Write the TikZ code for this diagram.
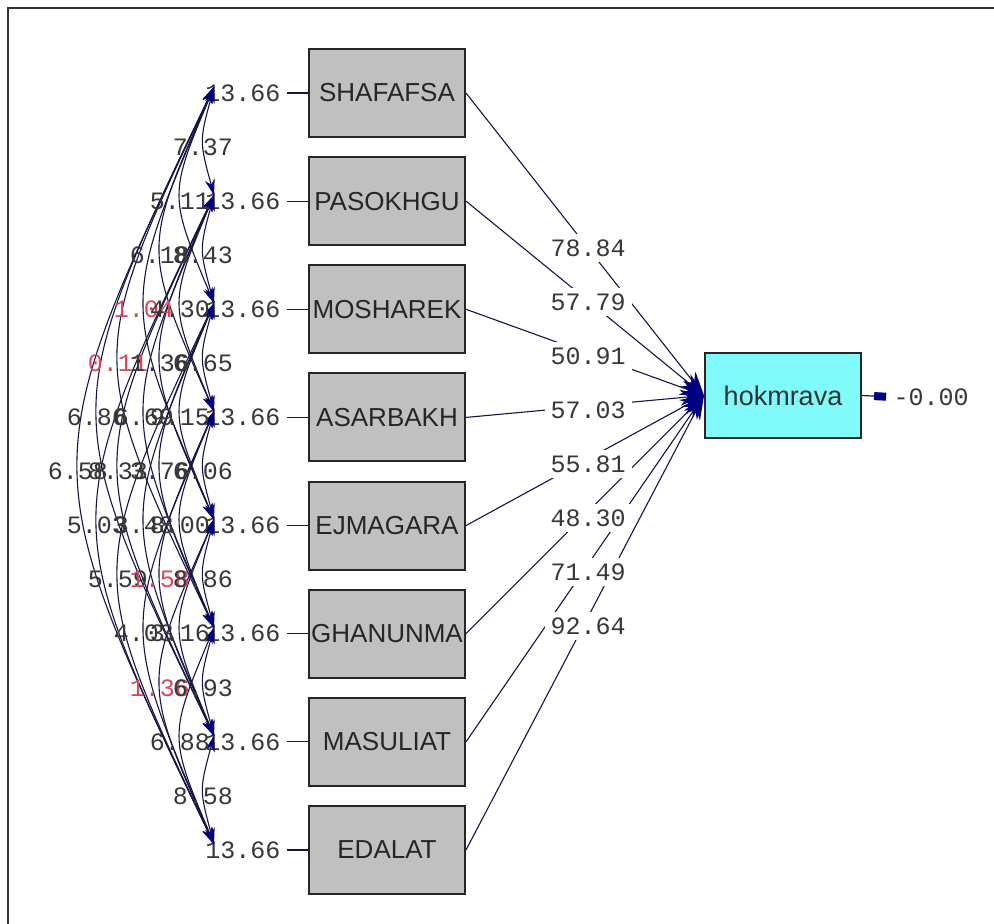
\documentclass[tikz,border=0pt]{standalone}
\usepackage{fontspec}
\setmainfont{Liberation Sans}
\newfontfamily\numfont{Liberation Mono}
\usetikzlibrary{arrows.meta,calc}
\definecolor{boxgray}{RGB}{192,192,192}
\definecolor{hokcyan}{RGB}{128,250,250}
\definecolor{arrnavy}{RGB}{0,0,130}
\definecolor{linecol}{RGB}{20,20,70}
\definecolor{numcol}{RGB}{55,55,55}
\definecolor{redcol}{RGB}{215,70,90}
\begin{document}
\begin{tikzpicture}[x=0.5pt,y=-0.5pt,
  varbox/.style={draw=black!85, line width=1pt, fill=boxgray, minimum width=78pt, minimum height=44pt, inner sep=0pt, font=\fontsize{13}{13}\selectfont, text=black!85},
  latbox/.style={draw=black!85, line width=1pt, fill=hokcyan, minimum width=78pt, minimum height=42.5pt, inner sep=0pt, font=\fontsize{13.5}{13.5}\selectfont, text=black!80},
  num/.style={font=\numfont\fontsize{12.5}{12.5}\selectfont, text=numcol, inner sep=0.5pt},
  covarc/.style={draw=linecol, line width=0.55pt, {Stealth[length=8pt,width=5pt,color=arrnavy]}-{Stealth[length=8pt,width=5pt,color=arrnavy]}},
  patharrow/.style={draw=linecol, line width=0.55pt, -{Stealth[length=12pt,width=8pt,color=arrnavy]}},
  thinline/.style={draw=linecol, line width=0.6pt}
]
\useasboundingbox (0,0) rectangle (994,924);
\draw[line width=1.2pt, black!80] (8,924) -- (8,8) -- (994,8);

% observed variables
\foreach \k/\nm in {1/SHAFAFSA,2/PASOKHGU,3/MOSHAREK,4/ASARBAKH,5/EJMAGARA,6/GHANUNMA,7/MASULIAT,8/EDALAT}{
  \node[varbox] (b\k) at (387,{93+108.14*(\k-1)}) {\nm};
  \node[num, inner xsep=3pt] (v\k) at (243,{93+108.14*(\k-1)}) {13.66};
  \draw[thinline] (v\k.east) -- (b\k.west);
  \coordinate (p\k) at (214,{87+108.14*(\k-1)});
}

% latent variable
\node[latbox] (hok) at (783,395.5) {hokmrava};
\coordinate (tip) at (hok.west);
\node[num] (err) at (931,397) {-0.00};
\draw[thinline, {Rectangle[length=6pt,width=4pt,color=arrnavy]}-, shorten <=3pt] (err.west) -- (hok.east);

% paths
\foreach \k in {1,...,8}{
  \draw[patharrow] (b\k.east) -- (tip);
}
\foreach \k/\lab in {1/78.84,2/57.79,3/50.91,4/57.03,5/55.81,6/48.30,7/71.49,8/92.64}{
  \node[num, fill=white, inner sep=3pt] (l\k) at (588,{248+54*(\k-1)}) {\lab};
}

% covariance arcs
\foreach \i/\j in {1/2,1/3,1/4,2/3,1/5,2/4,1/6,2/5,3/4,1/7,2/6,3/5,1/8,2/7,3/6,4/5,2/8,3/7,4/6,3/8,4/7,5/6,4/8,5/7,5/8,6/7,6/8,7/8}{
  \pgfmathsetmacro{\cx}{{203,180,160,144,118,97,78}[\j-\i-1]}
  \pgfmathsetmacro{\ctlx}{(8*\cx-428)/6}
  \pgfmathsetmacro{\ymid}{87+54.07*(\i+\j-2)}
  \draw[covarc] (p\i) .. controls (\ctlx,\ymid) .. (p\j);
}
\foreach \i/\j/\lab/\col in {1/2/7.37/numcol,1/3/5.11/numcol,1/4/6.18/numcol,2/3/8.43/numcol,1/5/1.04/redcol,2/4/4.30/numcol,1/6/0.11/redcol,2/5/1.36/numcol,3/4/6.65/numcol,1/7/6.86/numcol,2/6/6.69/numcol,3/5/9.15/numcol,1/8/6.58/numcol,2/7/8.33/numcol,3/6/3.76/numcol,4/5/6.06/numcol,2/8/5.03/numcol,3/7/3.48/numcol,4/6/8.00/numcol,3/8/5.59/numcol,4/7/1.58/redcol,5/6/8.86/numcol,4/8/4.03/numcol,5/7/3.16/numcol,5/8/1.36/redcol,6/7/6.93/numcol,6/8/6.88/numcol,7/8/8.58/numcol}{
  \pgfmathsetmacro{\cx}{{203,180,160,144,118,97,78}[\j-\i-1]}
  \pgfmathsetmacro{\ymid}{93+54.07*(\i+\j-2)}
  \node[num, text=\col] (c\i\j) at (\cx,\ymid) {\lab};
}
\end{tikzpicture}
\end{document}
